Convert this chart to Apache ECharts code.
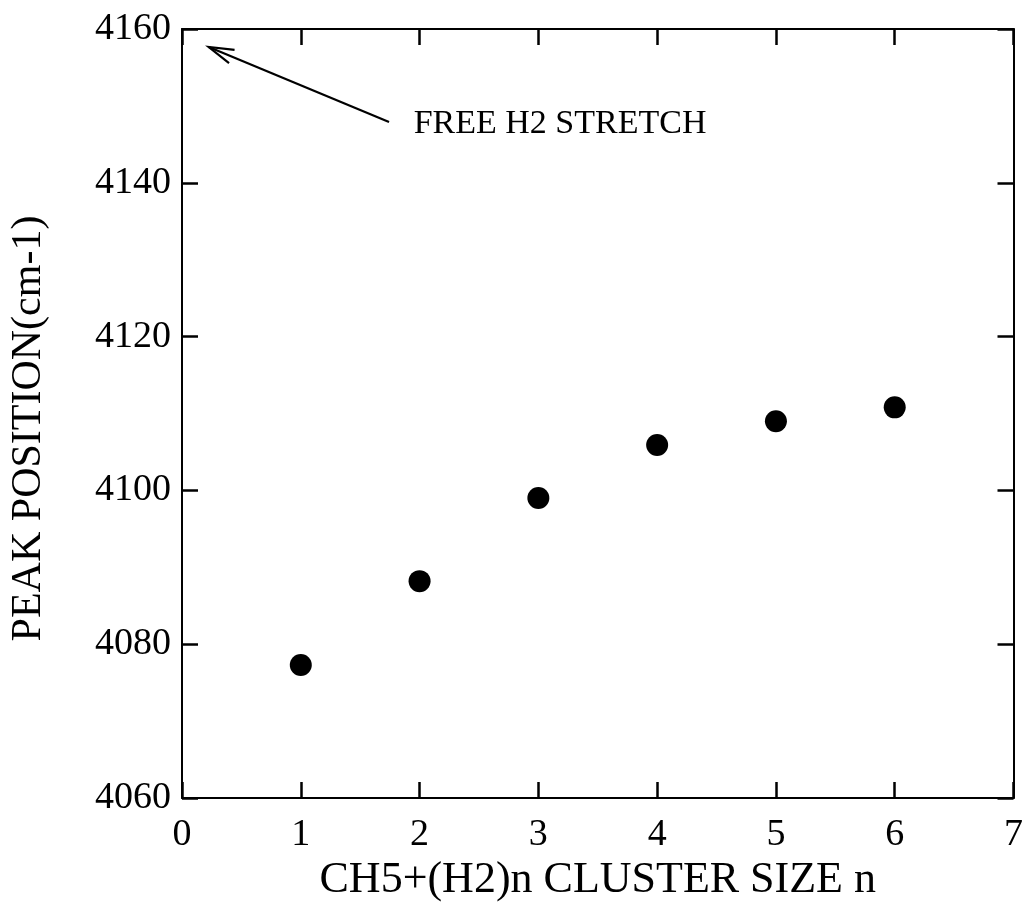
<!DOCTYPE html>
<html>
<head>
<meta charset="utf-8">
<title>CH5+(H2)n peak position vs cluster size</title>
<script src="https://cdn.jsdelivr.net/npm/echarts@6/dist/echarts.min.js"></script>
<style>
  html, body { margin: 0; padding: 0; background: #fff; }
  #chart { width: 1026px; height: 915px; }
</style>
</head>
<body>
<div id="chart"></div>
<script>
// Cluster size n and measured H2 stretch peak position (cm-1)
const clusterSize = [1, 2, 3, 4, 5, 6];
const peakPosition = [4077.3, 4088.2, 4099.0, 4105.9, 4109.0, 4110.8];

// Axis ranges and ticks
const xTicks = [0, 1, 2, 3, 4, 5, 6, 7];
const yTicks = [4060, 4080, 4100, 4120, 4140, 4160];

// Arrow pointing at the free H2 stretch frequency: [tailX, tailY, tipX, tipY]
const arrowSegment = [1.743, 4147.9, 0.225, 4157.66];
const arrowLabel = 'FREE H2 STRETCH';
const arrowLabelAt = [1.95, 4147.6];

const FONT = '"Liberation Serif", "Times New Roman", Times, serif';

const chart = echarts.init(document.getElementById('chart'), null, { renderer: 'canvas' });

function axisLine() {
  return { show: true, onZero: false, lineStyle: { color: '#000', width: 2 } };
}
function axisTick() {
  return { show: true, inside: true, length: 16, lineStyle: { color: '#000', width: 2.5 } };
}
function xAxisBase(position) {
  return {
    type: 'value',
    position: position,
    min: xTicks[0],
    max: xTicks[xTicks.length - 1],
    interval: xTicks[1] - xTicks[0],
    axisLine: axisLine(),
    axisTick: axisTick(),
    splitLine: { show: false }
  };
}
function yAxisBase(position) {
  return {
    type: 'value',
    position: position,
    min: yTicks[0],
    max: yTicks[yTicks.length - 1],
    interval: yTicks[1] - yTicks[0],
    axisLine: axisLine(),
    axisTick: axisTick(),
    splitLine: { show: false }
  };
}

chart.setOption({
  backgroundColor: '#fff',
  animation: false,
  grid: { left: 181, right: 6, top: 29, bottom: 117, containLabel: false },
  xAxis: [
    Object.assign(xAxisBase('bottom'), {
      name: 'CH5+(H2)n CLUSTER SIZE n',
      nameLocation: 'middle',
      nameGap: 52,
      nameTextStyle: { fontFamily: FONT, fontSize: 44, color: '#000' },
      axisLabel: { fontFamily: FONT, fontSize: 38, color: '#000', margin: 18, formatter: v => String(v) }
    }),
    Object.assign(xAxisBase('top'), { axisLabel: { show: false } })
  ],
  yAxis: [
    Object.assign(yAxisBase('left'), {
      name: 'PEAK POSITION(cm-1)',
      nameLocation: 'middle',
      nameRotate: 90,
      nameGap: 132,
      nameTextStyle: { fontFamily: FONT, fontSize: 42, color: '#000', padding: [0, 30, 0, 0] },
      axisLabel: { fontFamily: FONT, fontSize: 38, color: '#000', margin: 11, formatter: v => String(v) }
    }),
    Object.assign(yAxisBase('right'), { axisLabel: { show: false } })
  ],
  series: [
    {
      type: 'scatter',
      xAxisIndex: 0,
      yAxisIndex: 0,
      symbol: 'circle',
      symbolSize: 22,
      itemStyle: { color: '#000', opacity: 1 },
      data: clusterSize.map((n, i) => [n, peakPosition[i]])
    },
    {
      // arrow with an open head plus its text label
      type: 'custom',
      xAxisIndex: 0,
      yAxisIndex: 0,
      silent: true,
      data: [arrowSegment],
      renderItem: function (params, api) {
        const tail = api.coord([api.value(0), api.value(1)]);
        const tip = api.coord([api.value(2), api.value(3)]);
        const ang = Math.atan2(tail[1] - tip[1], tail[0] - tip[0]);
        const headLen = 26, spread = 0.28;
        const b1 = [tip[0] + headLen * Math.cos(ang + spread), tip[1] + headLen * Math.sin(ang + spread)];
        const b2 = [tip[0] + headLen * Math.cos(ang - spread), tip[1] + headLen * Math.sin(ang - spread)];
        const lbl = api.coord(arrowLabelAt);
        const stroke = { stroke: '#000', lineWidth: 2.2, fill: null };
        return {
          type: 'group',
          children: [
            { type: 'line', shape: { x1: tail[0], y1: tail[1], x2: tip[0], y2: tip[1] }, style: stroke },
            { type: 'polyline', shape: { points: [b1, tip, b2] }, style: stroke },
            {
              type: 'text',
              x: lbl[0], y: lbl[1],
              style: {
                text: arrowLabel,
                font: '34px ' + FONT,
                fill: '#000',
                textAlign: 'left',
                textVerticalAlign: 'middle'
              }
            }
          ]
        };
      }
    }
  ]
});
</script>
</body>
</html>
